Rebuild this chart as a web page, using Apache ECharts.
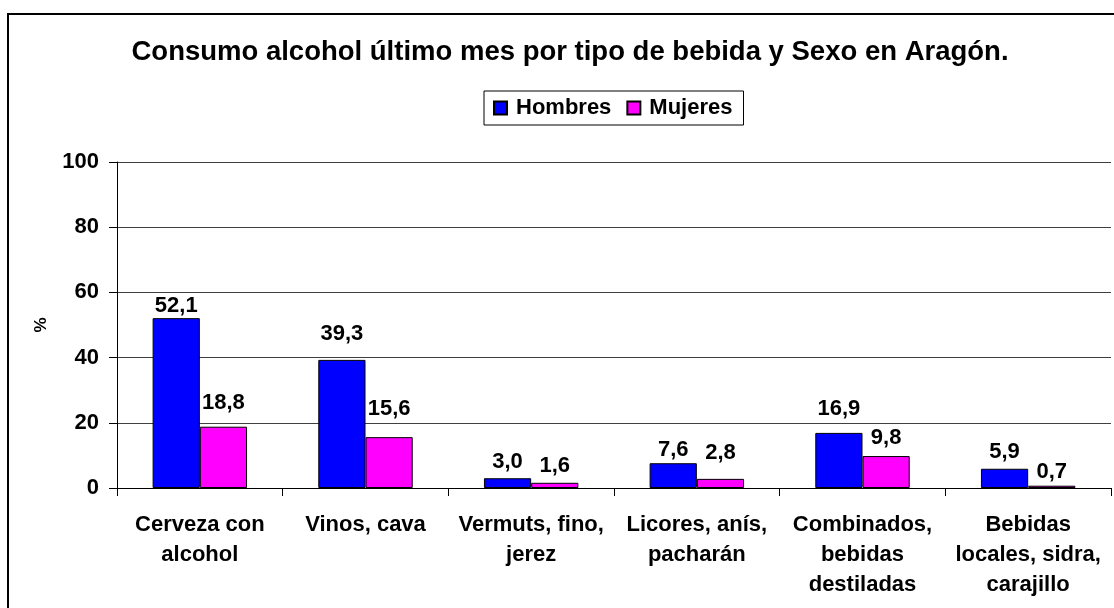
<!DOCTYPE html>
<html>
<head>
<meta charset="utf-8">
<script src="https://cdn.jsdelivr.net/npm/echarts@6/dist/echarts.min.js"></script>
<style>
  html, body { margin: 0; padding: 0; background: #fff; }
  #chart { width: 1114px; height: 608px; }
</style>
</head>
<body>
<div id="chart"></div>
<script>
const categories = [
  "Cerveza con\nalcohol",
  "Vinos, cava",
  "Vermuts, fino,\njerez",
  "Licores, anís,\npacharán",
  "Combinados,\nbebidas\ndestiladas",
  "Bebidas\nlocales, sidra,\ncarajillo"
];
const hombres = [52.1, 39.3, 3.0, 7.6, 16.9, 5.9];
const mujeres = [18.8, 15.6, 1.6, 2.8, 9.8, 0.7];
const yTicks = [0, 20, 40, 60, 80, 100];

// gap (px) between each value label and its bar, as placed in the original
const hombresLabelGap = [4, 18, 8, 5, 16, 9];
const mujeresLabelGap = [16, 20, 9, 18, 10, 6];

const font = "Liberation Sans, Arial, sans-serif";
const fmt = (p) => p.value.toFixed(1).replace(".", ",");

const labelStyle = {
  show: true,
  position: "top",
  formatter: fmt,
  fontFamily: font,
  fontWeight: "bold",
  fontSize: 22,
  color: "#000"
};

function withLabelGap(values, gaps) {
  return values.map((v, i) => ({ value: v, label: { distance: Math.max(0, gaps[i] - 3) } }));
}

const chart = echarts.init(document.getElementById("chart"));

chart.setOption({
  animation: false,
  textStyle: { fontFamily: font },
  graphic: [{
    type: "rect",
    shape: { x: 8, y: 14, width: 1120, height: 620 },
    style: { fill: "none", stroke: "#000", lineWidth: 2 },
    silent: true
  }],
  title: {
    text: "Consumo alcohol último mes por tipo de bebida y Sexo en Aragón.",
    left: 565,
    textAlign: "center",
    top: 33,
    textStyle: { fontFamily: font, fontWeight: "bold", fontSize: 27.5, color: "#000" }
  },
  legend: {
    data: ["Hombres", "Mujeres"],
    left: 484,
    top: 91,
    padding: [6, 11, 6, 9],
    itemGap: 15,
    itemWidth: 13,
    itemHeight: 13,
    borderColor: "#000",
    borderWidth: 1,
    icon: "rect",
    textStyle: { fontFamily: font, fontWeight: "bold", fontSize: 22, color: "#000", padding: [0, 0, 0, 4] }
  },
  grid: { left: 117, right: 3, top: 162, bottom: 120, containLabel: false },
  xAxis: {
    type: "category",
    data: categories,
    axisLine: { lineStyle: { color: "#000", width: 1 } },
    axisTick: { show: true, length: 8, lineStyle: { color: "#000" } },
    axisLabel: {
      interval: 0,
      margin: 22,
      fontFamily: font,
      fontWeight: "bold",
      fontSize: 22,
      lineHeight: 30,
      color: "#000"
    }
  },
  yAxis: {
    type: "value",
    min: 0,
    max: 100,
    interval: 20,
    name: "%",
    nameLocation: "middle",
    nameGap: 67,
    nameRotate: 90,
    nameTextStyle: { fontFamily: font, fontWeight: "bold", fontSize: 17, color: "#000" },
    axisLine: { show: true, lineStyle: { color: "#000", width: 1 } },
    axisTick: { show: true, length: 8, lineStyle: { color: "#000" } },
    splitLine: { show: true, lineStyle: { color: "#404040", width: 1 } },
    axisLabel: {
      margin: 18,
      fontFamily: font,
      fontWeight: "bold",
      fontSize: 22,
      color: "#000",
      formatter: (v) => (yTicks.includes(v) ? String(v) : "")
    }
  },
  series: [
    {
      name: "Hombres",
      type: "bar",
      data: withLabelGap(hombres, hombresLabelGap),
      barGap: "0%",
      barCategoryGap: "43%",
      itemStyle: { color: "#0000FF", borderColor: "#000", borderWidth: 1 },
      label: labelStyle
    },
    {
      name: "Mujeres",
      type: "bar",
      data: withLabelGap(mujeres, mujeresLabelGap),
      itemStyle: { color: "#FF00FF", borderColor: "#000", borderWidth: 1 },
      label: labelStyle
    }
  ]
});
</script>
</body>
</html>
